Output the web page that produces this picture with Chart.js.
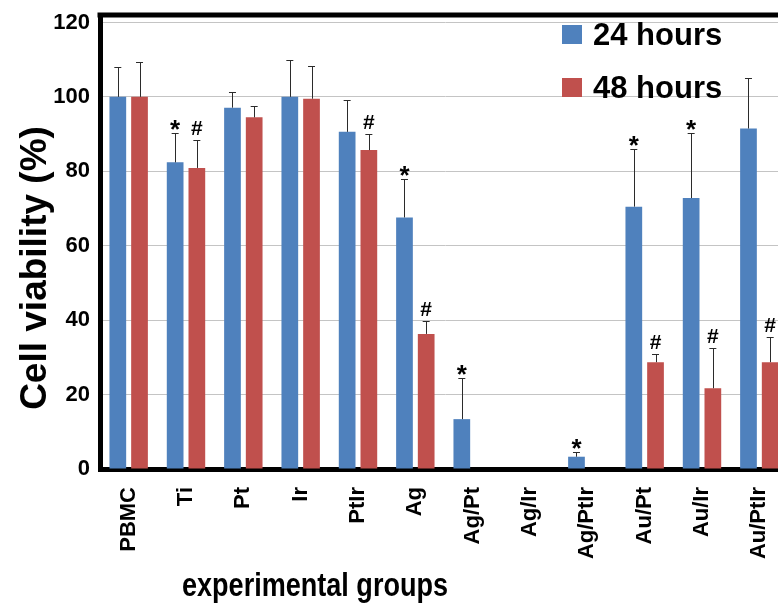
<!DOCTYPE html>
<html>
<head>
<meta charset="utf-8">
<title>Cell viability</title>
<script src="https://cdn.jsdelivr.net/npm/chart.js@4/dist/chart.umd.min.js"></script>
<style>
  html, body { margin: 0; padding: 0; background: #fff; overflow: hidden; }
  #wrap { position: absolute; left: 0; top: 0; width: 800px; height: 604px; }
</style>
</head>
<body>
<div id="wrap"><canvas id="viability-chart" width="800" height="604"></canvas></div>
<script>
// Data
const GROUPS = ['PBMC', 'Ti', 'Pt', 'Ir', 'PtIr', 'Ag', 'Ag/Pt', 'Ag/Ir', 'Ag/PtIr', 'Au/Pt', 'Au/Ir', 'Au/PtIr'];
const Y_TICKS = [0, 20, 40, 60, 80, 100, 120];

const SERIES_LABELS = ['24 hours', '48 hours'];
const VIABILITY_24H = [100, 82.4, 97.1, 100, 90.6, 67.6, 13.4, 0, 3.3, 70.5, 72.8, 91.5];
const VIABILITY_48H = [100, 80.9, 94.5, 99.5, 85.7, 36.3, 0, 0, 0, 28.7, 21.7, 28.7];
// upper error bar lengths (SD), only the positive side is drawn
const ERR_24H = [8, 7.8, 4.2, 9.8, 8.6, 10.2, 11.1, 0, 1.4, 15.5, 17.5, 13.6];
const ERR_48H = [9.3, 7.6, 3, 8.8, 4.3, 3.6, 0, 0, 0, 2.2, 10.9, 6.7];
// significance markers
const MARKS_24H = ['', '*', '', '', '', '*', '*', '', '*', '*', '*', ''];
const MARKS_48H = ['', '#', '', '', '#', '#', '', '', '', '#', '#', '#'];

const BLUE = '#4F81BD';
const RED = '#C0504D';
const FONT = '"Liberation Sans", Arial, sans-serif';

const errors = [ERR_24H, ERR_48H];
const marks = [MARKS_24H, MARKS_48H];

// ---------------------------------------------------------------------------
// Error bars + * / # markers
// ---------------------------------------------------------------------------
const errorBars = {
  id: 'errorBars',
  afterDatasetsDraw(chart) {
    const { ctx } = chart;
    const yScale = chart.scales.y;
    chart.data.datasets.forEach((ds, di) => {
      const meta = chart.getDatasetMeta(di);
      meta.data.forEach((bar, i) => {
        const v = ds.data[i];
        const err = errors[di][i];
        const yBar = yScale.getPixelForValue(v);
        const yTop = err ? yScale.getPixelForValue(v + err) : yBar;
        ctx.save();
        if (err) {
          ctx.strokeStyle = '#2b2b2b';
          ctx.lineWidth = 1;
          ctx.beginPath();
          ctx.moveTo(Math.round(bar.x) + 0.5, yBar);
          ctx.lineTo(Math.round(bar.x) + 0.5, Math.round(yTop) + 0.5);
          ctx.moveTo(bar.x - 3.5, Math.round(yTop) + 0.5);
          ctx.lineTo(bar.x + 3.5, Math.round(yTop) + 0.5);
          ctx.stroke();
        }
        const m = marks[di][i];
        if (m) {
          ctx.fillStyle = '#000';
          ctx.textAlign = 'center';
          ctx.textBaseline = 'alphabetic';
          if (m === '*') {
            ctx.font = `bold 26px ${FONT}`;
            ctx.fillText(m, bar.x, yTop + 5);
          } else {
            ctx.font = `bold 21px ${FONT}`;
            ctx.fillText(m, bar.x, yTop - 5);
          }
        }
        ctx.restore();
      });
    });
  },
};

// ---------------------------------------------------------------------------
// Frame top line, legend inside the plot, axis titles
// ---------------------------------------------------------------------------
const decorations = {
  id: 'decorations',
  afterDraw(chart) {
    const { ctx, chartArea } = chart;
    ctx.save();

    // thick top line of the frame
    ctx.strokeStyle = '#000';
    ctx.lineWidth = 5;
    ctx.beginPath();
    ctx.moveTo(chartArea.left - 2.5, chartArea.top);
    ctx.lineTo(chart.width, chartArea.top);
    ctx.stroke();

    // legend
    const lx = 562;
    const rows = [34, 87];
    chart.data.datasets.forEach((ds, i) => {
      ctx.fillStyle = ds.backgroundColor;
      ctx.fillRect(lx, rows[i] - 9, 20, 19);
      ctx.fillStyle = '#000';
      ctx.font = `bold 31px ${FONT}`;
      ctx.textAlign = 'left';
      ctx.textBaseline = 'alphabetic';
      ctx.fillText(ds.label, lx + 31, rows[i] + 11);
    });

    // y title
    ctx.save();
    ctx.translate(36, 268);
    ctx.rotate(-Math.PI / 2);
    ctx.font = `bold 37px ${FONT}`;
    ctx.textAlign = 'center';
    ctx.textBaseline = 'middle';
    ctx.fillStyle = '#000';
    ctx.fillText('Cell viability (%)', 0, 0);
    ctx.restore();

    // x title, condensed to the narrow face of the original
    const xTitle = 'experimental groups';
    ctx.font = `bold 33px ${FONT}`;
    const w = ctx.measureText(xTitle).width;
    ctx.save();
    ctx.translate(315, 596);
    ctx.scale(266 / w, 1);
    ctx.textAlign = 'center';
    ctx.textBaseline = 'alphabetic';
    ctx.fillStyle = '#000';
    ctx.fillText(xTitle, 0, 0);
    ctx.restore();

    ctx.restore();
  },
};

const canvas = document.getElementById('viability-chart');

new Chart(canvas, {
  type: 'bar',
  data: {
    labels: GROUPS,
    datasets: [
      { label: SERIES_LABELS[0], data: VIABILITY_24H, backgroundColor: BLUE },
      { label: SERIES_LABELS[1], data: VIABILITY_48H, backgroundColor: RED },
    ],
  },
  options: {
    responsive: false,
    animation: false,
    devicePixelRatio: 1,
    categoryPercentage: 0.757,
    barPercentage: 0.77,
    layout: { padding: { left: 0, right: 12, top: 15, bottom: 0 } },
    plugins: {
      legend: { display: false },
      tooltip: { enabled: false },
    },
    scales: {
      x: {
        grid: { display: false },
        border: { display: true, color: '#000', width: 5 },
        ticks: {
          color: '#000',
          font: { family: FONT, size: 22, weight: 'bold' },
          minRotation: 90,
          maxRotation: 90,
          padding: 10,
          autoSkip: false,
        },
        afterFit: (scale) => {
          scale.height = 135;
          scale.paddingLeft = 0;
          scale.paddingRight = 0;
        },
      },
      y: {
        min: 0,
        max: 122,
        grid: { color: '#c4c4c4', lineWidth: 1, drawTicks: false },
        border: { display: true, color: '#000', width: 5 },
        ticks: {
          stepSize: 20,
          includeBounds: false,
          color: '#000',
          padding: 10,
          font: { family: FONT, size: 22, weight: 'bold' },
        },
        afterBuildTicks: (scale) => {
          scale.ticks = Y_TICKS.map((v) => ({ value: v }));
        },
        afterFit: (scale) => {
          scale.width = 100;
          scale.paddingTop = 0;
          scale.paddingBottom = 0;
        },
      },
    },
  },
  plugins: [errorBars, decorations],
});
</script>
</body>
</html>
